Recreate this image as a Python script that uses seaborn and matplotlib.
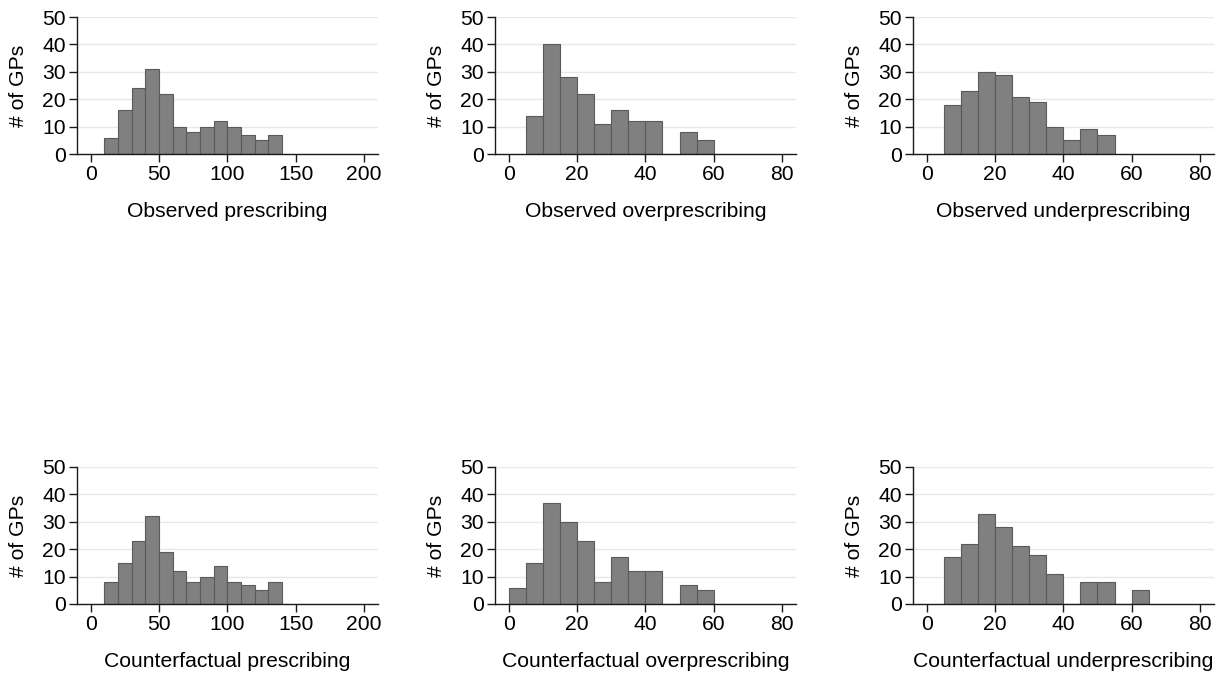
import numpy as np
import pandas as pd
import matplotlib
matplotlib.use("Agg")
import matplotlib.pyplot as plt
import seaborn as sns

sns.set_theme(style="white")
plt.rcParams['font.family'] = ['Liberation Sans', 'DejaVu Sans']

# ---- data (bin left edges and counts) ----
obs_presc_start = [10, 20, 30, 40, 50, 60, 70, 80, 90, 100, 110, 120, 130]
obs_presc_count = [6, 16, 24, 31, 22, 10, 8, 10, 12, 10, 7, 5, 7]

obs_over_start = [5, 10, 15, 20, 25, 30, 35, 40, 45, 50, 55]
obs_over_count = [14, 40, 28, 22, 11, 16, 12, 12, 0, 8, 5]

obs_under_start = [5, 10, 15, 20, 25, 30, 35, 40, 45, 50]
obs_under_count = [18, 23, 30, 29, 21, 19, 10, 5, 9, 7]

cf_presc_start = [10, 20, 30, 40, 50, 60, 70, 80, 90, 100, 110, 120, 130]
cf_presc_count = [8, 15, 23, 32, 19, 12, 8, 10, 14, 8, 7, 5, 8]

cf_over_start = [0, 5, 10, 15, 20, 25, 30, 35, 40, 45, 50, 55]
cf_over_count = [6, 15, 37, 30, 23, 8, 17, 12, 12, 0, 7, 5]

cf_under_start = [5, 10, 15, 20, 25, 30, 35, 40, 45, 50, 55, 60]
cf_under_count = [17, 22, 33, 28, 21, 18, 11, 0, 8, 8, 0, 5]

titles = ["Observed prescribing", "Observed overprescribing", "Observed underprescribing",
          "Counterfactual prescribing", "Counterfactual overprescribing", "Counterfactual underprescribing"]
y_label = "# of GPs"
y_ticks = [0, 10, 20, 30, 40, 50]
x_ticks_presc = [0, 50, 100, 150, 200]
x_ticks_other = [0, 20, 40, 60, 80]

panels = [
    (obs_presc_start, obs_presc_count, 10, x_ticks_presc),
    (obs_over_start, obs_over_count, 5, x_ticks_other),
    (obs_under_start, obs_under_count, 5, x_ticks_other),
    (cf_presc_start, cf_presc_count, 10, x_ticks_presc),
    (cf_over_start, cf_over_count, 5, x_ticks_other),
    (cf_under_start, cf_under_count, 5, x_ticks_other),
]

FS = 15.2
fig = plt.figure(figsize=(12.29, 6.82), dpi=100)
lefts = [0.0627, 0.4028, 0.7429]
bottoms = [0.774, 0.1144]
w, h = 0.2446, 0.201

for i, (starts, counts, bw, xt) in enumerate(panels):
    r, c = divmod(i, 3)
    ax = fig.add_axes([lefts[c], bottoms[r], w, h])
    edges = [float(s) for s in starts] + [float(starts[-1] + bw)]
    centers = [s + bw / 2 for s in starts]
    df = pd.DataFrame({"x": centers, "n": [float(v) for v in counts]})
    sns.histplot(data=df, x="x", weights="n", bins=edges, ax=ax,
                 color="#808080", edgecolor="#5a5a5a", linewidth=0.8, alpha=1)
    ax.set_xlim(xt[0] - 0.05 * (xt[-1] - xt[0]), xt[-1] + 0.05 * (xt[-1] - xt[0]))
    ax.set_ylim(0, 50)
    ax.set_yticks(y_ticks)
    ax.set_xticks(xt)
    ax.yaxis.grid(True, color="#e8e8e8", linewidth=1)
    ax.set_axisbelow(True)
    for s in ["top", "right"]:
        ax.spines[s].set_visible(False)
    ax.spines["left"].set_bounds(0, 50)
    for s in ["left", "bottom"]:
        ax.spines[s].set_color("#1a1a1a")
        ax.spines[s].set_linewidth(1.0)
    ax.tick_params(axis="both", which="major", direction="out", length=6, width=1,
                   color="#1a1a1a", labelsize=FS, labelcolor="black", pad=2,
                   left=True, bottom=True)
    ax.set_ylabel(y_label, fontsize=FS, labelpad=10, color="black")
    ax.set_xlabel(titles[i], fontsize=FS, labelpad=13, color="black")

fig.savefig("out.png", dpi=100, facecolor="white")
